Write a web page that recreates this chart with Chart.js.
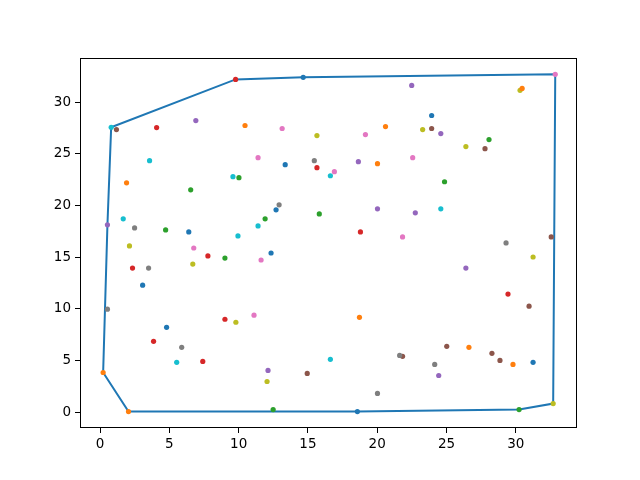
<!DOCTYPE html>
<html lang="en">
<head>
    <meta charset="UTF-8">
    <title>Scatter with convex hull</title>
    <script src="https://cdn.jsdelivr.net/npm/chart.js"></script>
    <style>
        body { margin: 0; background: #fff; }
        #wrap { width: 640px; height: 480px; }
    </style>
</head>
<body>
    <div id="wrap"><canvas id="hullChart" width="640" height="480"></canvas></div>

    <script>
        // Points, ordered so that colour = tab10[index % 10]
        const xValues = [
            14.66, 10.46, 10.02, 4.08, 6.91, 1.18, 32.85, 15.46, 15.65, 0.80,
            13.36, 20.60, 24.86, 9.78, 22.49, 23.93, 13.14, 2.49, 30.31, 3.57,
            23.93, 20.02, 28.07, 15.65, 18.64, 27.78, 19.15, 3.50, 23.28, 9.59,
            6.40, 30.46, 6.54, 7.78, 24.59, 32.56, 11.40, 12.92, 26.40, 1.67,
            3.07, 1.91, 4.73, 2.34, 0.53, 14.95, 16.91, 29.30, 2.12, 9.95,
            12.70, 18.72, 9.01, 18.79, 20.02, 21.83, 22.56, 0.53, 6.69, 11.40,
            12.34, 0.22, 11.91, 29.44, 22.75, 30.96, 6.76, 5.89, 31.25, 16.62,
            4.80, 2.05, 15.82, 9.01, 26.40, 25.02, 21.83, 21.62, 9.80, 24.59,
            18.57, 26.62, 12.49, 3.86, 12.12, 28.28, 11.62, 20.02, 12.05, 5.53,
            31.25, 29.80, 30.24, 7.41, 24.44, 28.86, 11.11, 24.15, 32.70, 16.62
        ];
        const yValues = [
            32.40, 27.74, 22.69, 27.54, 28.22, 27.35, 32.69, 24.34, 26.77, 27.57,
            23.95, 27.64, 22.30, 32.20, 31.62, 27.45, 27.45, 17.83, 31.14, 24.34,
            28.71, 24.05, 26.38, 23.66, 24.24, 25.50, 26.86, 13.95, 27.35, 22.79,
            17.45, 31.33, 21.52, 15.12, 26.96, 16.96, 24.63, 20.07, 25.70, 18.71,
            12.30, 22.20, 17.64, 13.95, 18.13, 3.76, 23.27, 16.38, 16.09, 17.06,
            19.58, 9.19, 14.92, 17.45, 19.68, 5.41, 24.63, 9.97, 14.34, 18.03,
            15.41, 3.85, 18.71, 11.43, 19.29, 10.26, 15.89, 6.28, 15.02, 22.88,
            8.22, 0.07, 19.19, 9.00, 13.95, 6.38, 16.96, 5.50, 8.71, 19.68,
            0.07, 6.28, 0.26, 6.86, 4.05, 5.70, 14.73, 1.82, 2.98, 4.83,
            4.83, 4.63, 0.26, 4.92, 3.56, 5.02, 9.39, 4.63, 0.84, 5.12
        ];
        const xTicks = [0, 5, 10, 15, 20, 25, 30];
        const yTicks = [0, 5, 10, 15, 20, 25, 30];
        const xLimits = [-1.45, 34.42];
        const yLimits = [-1.52, 34.27];

        const tab10 = ['#1f77b4', '#ff7f0e', '#2ca02c', '#d62728', '#9467bd',
                       '#8c564b', '#e377c2', '#7f7f7f', '#bcbd22', '#17becf'];

        const points = xValues.map((x, i) => ({ x: x, y: yValues[i] }));

        // convex hull (monotone chain), closed
        function convexHull(pts) {
            const p = pts.slice().sort((a, b) => a.x - b.x || a.y - b.y);
            const cross = (o, a, b) => (a.x - o.x) * (b.y - o.y) - (a.y - o.y) * (b.x - o.x);
            const lower = [], upper = [];
            for (const q of p) {
                while (lower.length >= 2 && cross(lower[lower.length - 2], lower[lower.length - 1], q) <= 0) lower.pop();
                lower.push(q);
            }
            for (let i = p.length - 1; i >= 0; i--) {
                const q = p[i];
                while (upper.length >= 2 && cross(upper[upper.length - 2], upper[upper.length - 1], q) <= 0) upper.pop();
                upper.push(q);
            }
            upper.pop(); lower.pop();
            const hull = lower.concat(upper);
            hull.push(hull[0]);
            return hull;
        }
        const hullPoints = convexHull(points);

        // black frame round the plot area
        const framePlugin = {
            id: 'frame',
            afterDatasetsDraw(chart) {
                const a = chart.chartArea, ctx = chart.ctx;
                ctx.save();
                ctx.strokeStyle = '#000';
                ctx.lineWidth = 1;
                ctx.strokeRect(a.left + 0.5, a.top + 0.5, a.right - a.left - 1, a.bottom - a.top - 1);
                ctx.restore();
            }
        };

        Chart.defaults.color = '#000';
        Chart.defaults.font.family = "'DejaVu Sans', sans-serif";
        Chart.defaults.font.size = 13.5;

        new Chart(document.getElementById('hullChart'), {
            type: 'scatter',
            data: {
                datasets: [
                    {
                        type: 'line',
                        data: hullPoints,
                        borderColor: '#1f77b4',
                        borderWidth: 2,
                        pointRadius: 0,
                        fill: false,
                        tension: 0,
                        order: 2
                    },
                    {
                        data: points,
                        pointRadius: 2.6,
                        pointBorderWidth: 0,
                        pointBackgroundColor: ctx => tab10[ctx.dataIndex % 10],
                        order: 1
                    }
                ]
            },
            options: {
                responsive: false,
                animation: false,
                layout: { padding: { left: 0, right: 63, top: 58, bottom: 0 } },
                plugins: { legend: { display: false }, tooltip: { enabled: false } },
                scales: {
                    x: {
                        type: 'linear',
                        min: xLimits[0],
                        max: xLimits[1],
                        afterBuildTicks: s => { s.ticks = xTicks.map(v => ({ value: v })); },
                        afterFit: s => { s.height = 52; },
                        grid: { display: true, drawOnChartArea: false, drawTicks: true, tickLength: 5, tickColor: '#000' },
                        border: { display: false },
                        ticks: { padding: 3, maxRotation: 0 }
                    },
                    y: {
                        type: 'linear',
                        min: yLimits[0],
                        max: yLimits[1],
                        afterBuildTicks: s => { s.ticks = yTicks.map(v => ({ value: v })); },
                        afterFit: s => { s.width = 80; },
                        grid: { display: true, drawOnChartArea: false, drawTicks: true, tickLength: 5, tickColor: '#000' },
                        border: { display: false },
                        ticks: { padding: 4 }
                    }
                }
            },
            plugins: [framePlugin]
        });
    </script>
</body>
</html>
